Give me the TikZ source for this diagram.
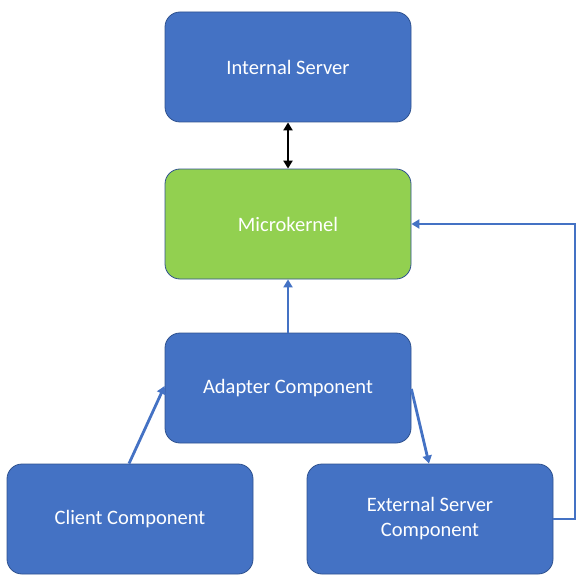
\documentclass[tikz,border=0pt]{standalone}
\usepackage{fontspec}
\setmainfont{Carlito}
\usetikzlibrary{arrows.meta}
\definecolor{boxblue}{HTML}{4472C4}
\definecolor{boxedge}{HTML}{2F528F}
\definecolor{kgreen}{HTML}{92D050}
\begin{document}
\begin{tikzpicture}[x=1pt,y=-1pt,
  box/.style={draw=boxedge, line width=0.8pt, fill=boxblue, rounded corners=15pt,
    minimum width=246pt, minimum height=110pt, text=white, font=\fontsize{20.5}{25}\selectfont,
    align=center, inner sep=0pt},
  conn/.style={draw=boxblue, line width=2.8pt, -{Triangle[length=8pt,width=9pt]}}]
\useasboundingbox (0,0) rectangle (587,588);
\node[box] (is) at (288,67) {\raisebox{-1.5pt}{Internal Server}};
\node[box, fill=kgreen] (mk) at (288,224) {\raisebox{-1.5pt}{Microkernel}};
\node[box] (ad) at (288,388) {\raisebox{-1.5pt}{Adapter Component}};
\node[box] (cl) at (130,519) {\raisebox{-1.5pt}{Client Component}};
\node[box] (ex) at (430,519) {\raisebox{-1.5pt}{External Server}\\\raisebox{-1.5pt}{Component}};
\draw[line width=2.8pt, black, {Triangle[length=8pt,width=9pt]}-{Triangle[length=8pt,width=9pt]}] (is.south) -- (mk.north);
\draw[conn] (ad.north) -- (mk.south);
\coordinate (c1) at ([xshift=-1pt]cl.north);
\coordinate (a1) at ([yshift=2pt]ad.west);
\draw[conn] (c1) -- (a1);
\coordinate (a2) at ([yshift=-1pt]ad.east);
\coordinate (e1) at ([xshift=-1pt]ex.north);
\draw[conn] (a2) -- (e1);
\coordinate (tr) at (575,224);
\draw[conn] (ex.east) -| (tr) -- (mk.east);
\end{tikzpicture}
\end{document}
